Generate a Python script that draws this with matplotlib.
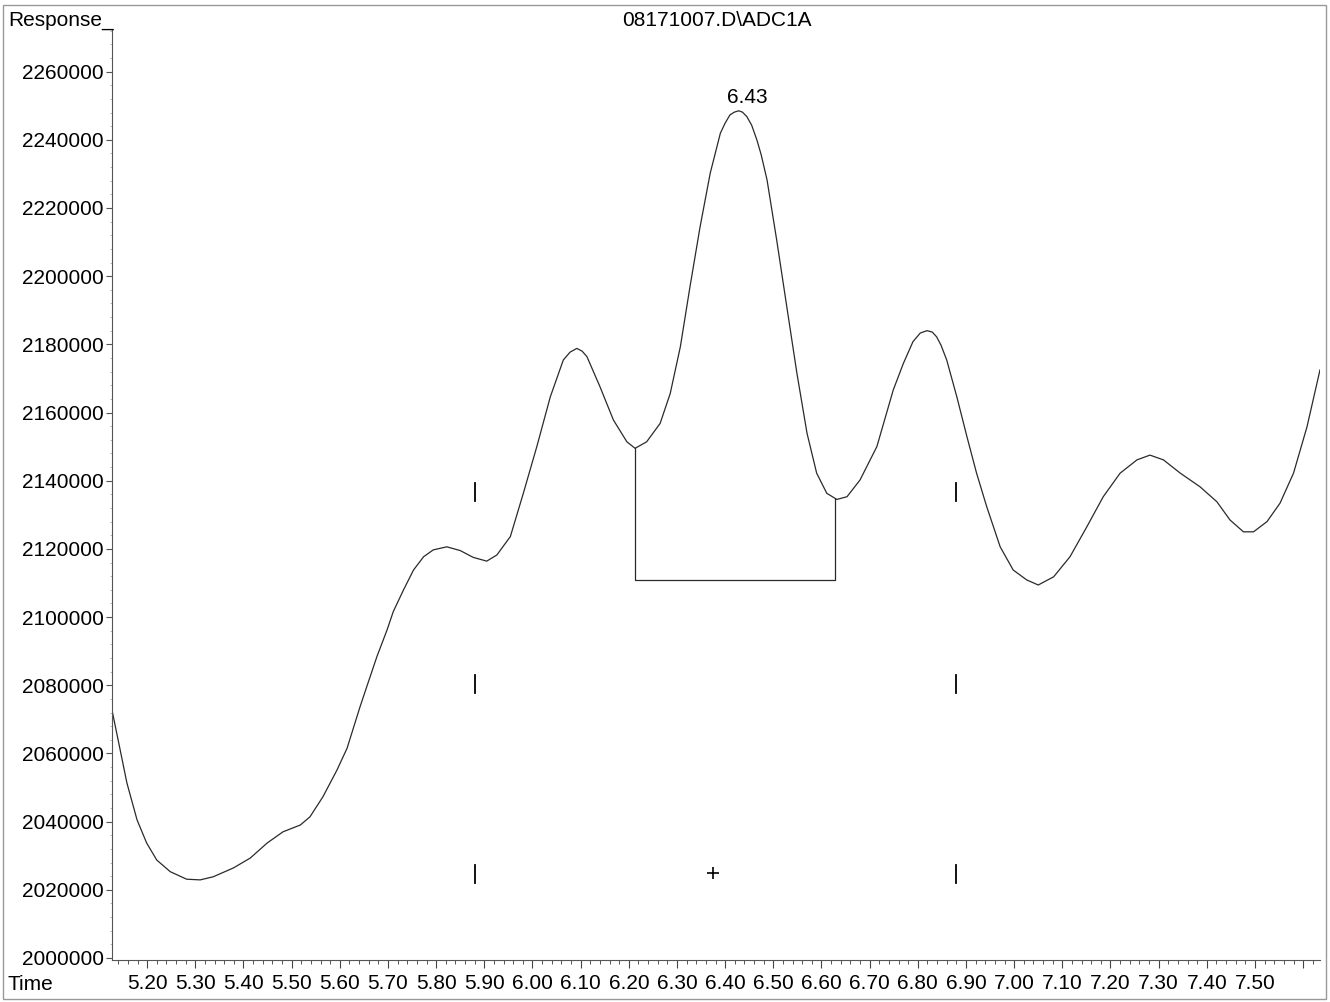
import matplotlib
matplotlib.use('Agg')
from matplotlib import pyplot as plt
from matplotlib.patches import Rectangle
from matplotlib.ticker import MultipleLocator, FormatStrFormatter, FuncFormatter

# trace (time in min, response)
time = [5.127, 5.144, 5.158, 5.179, 5.199, 5.220, 5.248, 5.282, 5.310, 5.337,
        5.379, 5.414, 5.449, 5.482, 5.518, 5.538, 5.565, 5.594, 5.615, 5.642,
        5.656, 5.677, 5.698, 5.711, 5.732, 5.753, 5.774, 5.794, 5.822, 5.850,
        5.877, 5.905, 5.926, 5.954, 5.981, 6.009, 6.037, 6.064, 6.078, 6.092,
        6.103, 6.113, 6.140, 6.168, 6.196, 6.213, 6.237, 6.265, 6.286, 6.307,
        6.327, 6.348, 6.369, 6.390, 6.400, 6.410, 6.419, 6.428, 6.436, 6.445,
        6.455, 6.466, 6.475, 6.487, 6.507, 6.528, 6.549, 6.570, 6.590, 6.611,
        6.632, 6.653, 6.680, 6.715, 6.749, 6.770, 6.790, 6.805, 6.819, 6.830,
        6.839, 6.848, 6.860, 6.881, 6.902, 6.922, 6.943, 6.971, 6.998, 7.026,
        7.050, 7.082, 7.116, 7.151, 7.185, 7.220, 7.255, 7.282, 7.310, 7.345,
        7.386, 7.421, 7.448, 7.476, 7.497, 7.525, 7.552, 7.580, 7.608, 7.635]
response = [2072700, 2061000, 2051300, 2040500, 2033700, 2028700, 2025300, 2023100, 2022900, 2023800,
            2026400, 2029300, 2033700, 2037000, 2039000, 2041400, 2047300, 2055100, 2061500, 2073700,
            2079600, 2088400, 2096200, 2101600, 2107900, 2113800, 2117700, 2119700, 2120600, 2119500,
            2117500, 2116400, 2118200, 2123600, 2136300, 2150000, 2164600, 2175400, 2177700, 2178800,
            2178000, 2176400, 2167600, 2157800, 2151400, 2149500, 2151400, 2156800, 2165600, 2179300,
            2196900, 2214500, 2230200, 2241900, 2244900, 2247300, 2248100, 2248500, 2248100, 2246800,
            2244300, 2239900, 2235500, 2228200, 2210600, 2191000, 2171500, 2153900, 2142200, 2136300,
            2134500, 2135300, 2140200, 2150000, 2166600, 2174400, 2180800, 2183300, 2184000, 2183600,
            2182200, 2179800, 2175400, 2164600, 2152900, 2142200, 2132400, 2120600, 2113800, 2110900,
            2109400, 2111800, 2117700, 2126500, 2135300, 2142200, 2146100, 2147500, 2146100, 2142200,
            2138200, 2133800, 2128500, 2125000, 2125000, 2128000, 2133400, 2142200, 2155800, 2172500]

# integration baseline of the 6.43 peak
base_t = [6.213, 6.213, 6.628, 6.628]
base_v = [2149500, 2110800, 2110800, 2134500]

peak_label = "6.43"
peak_pos = (6.446, 2252500)

# event marks
mark_t = [5.88, 6.88]
mark_v = [2136700, 2080400, 2024600]
mark_half = 2700
plus_pos = (6.375, 2024900)

last_label = 7.50

plt.rcParams['font.family'] = ['Liberation Sans', 'DejaVu Sans']
FS = 15

fig = plt.figure(figsize=(13.3, 10.02), dpi=100)
ax = fig.add_axes([112 / 1330, 1 - 960 / 1002, 1208 / 1330, 930 / 1002])

ax.plot(time, response, color='#2a2a2a', lw=0.9)
ax.plot(base_t, base_v, color='#2a2a2a', lw=0.9)

for t in mark_t:
    for v in mark_v:
        ax.plot([t, t], [v - mark_half, v + mark_half], color='black', lw=1.3)
ax.plot(plus_pos[0], plus_pos[1], marker='+', ms=8, mew=1.2, color='black')

ax.text(peak_pos[0], peak_pos[1], peak_label, ha='center', va='center', fontsize=FS)

ax.set_xlim(5.127, 7.635)
ax.set_ylim(1999400, 2272200)

def time_fmt(v, pos):
    # the right-most tick (7.60) carries no label in the reference
    if v > last_label + 0.05:
        return ''
    return '%.2f' % v

ax.xaxis.set_major_locator(MultipleLocator(0.1))
ax.xaxis.set_minor_locator(MultipleLocator(0.02))
ax.xaxis.set_major_formatter(FuncFormatter(time_fmt))
ax.yaxis.set_major_locator(MultipleLocator(20000))
ax.yaxis.set_minor_locator(MultipleLocator(4000))
ax.yaxis.set_major_formatter(FormatStrFormatter('%d'))

ax.tick_params(axis='y', which='major', direction='out', length=4.5, width=0.8,
               color='#555555', labelsize=FS, pad=1.5)
ax.tick_params(axis='x', which='major', direction='out', length=6, width=0.8,
               color='#444444', labelsize=FS, pad=4)
ax.tick_params(axis='x', which='minor', direction='out', length=3, width=0.7,
               color='#555555')
ax.tick_params(axis='y', which='minor', direction='out', length=1.5, width=0.6,
               color='#aaaaaa')

for side in ['top', 'right']:
    ax.spines[side].set_visible(False)
for side in ['left', 'bottom']:
    ax.spines[side].set_color('#555555')
    ax.spines[side].set_linewidth(0.8)

fig.text(8 / 1330, 1 - 20 / 1002, "Response_", ha='left', va='center', fontsize=FS)
fig.text(8 / 1330, 1 - 984 / 1002, "Time", ha='left', va='center', fontsize=FS)
fig.text(717 / 1330, 1 - 20 / 1002, "08171007.D\\ADC1A", ha='center', va='center', fontsize=FS)

fig.add_artist(Rectangle((0.002, 0.003), 0.995, 0.992, transform=fig.transFigure,
                         fill=False, ec='#999999', lw=1))

fig.savefig('out.png', dpi=100)
